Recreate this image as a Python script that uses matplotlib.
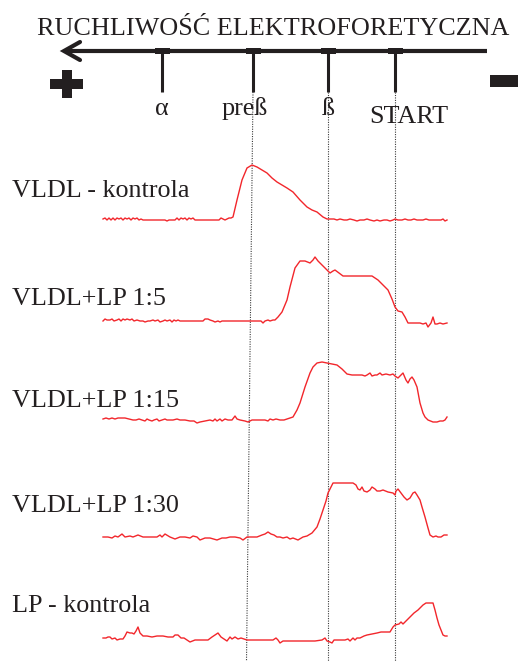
import numpy as np
import matplotlib.pyplot as plt
from matplotlib.patches import Rectangle

# densitometry scans: (position along the gel in px, signal height in px)
vldl_kontrola = [
    (103, 1), (105, 2), (107, 0), (109, 2), (111, 0), (113, 2), (115, 0), (117, 2), (119, 1), (121, 2),
    (123, 0), (125, 2), (127, 1), (129, 2), (131, 0), (133, 2), (135, 1), (137, 2), (139, 0), (141, 1),
    (143, 0), (150, 0), (158, 0), (165, 0), (167, -1), (169, 0), (175, 0), (177, 2), (179, 0), (181, 2),
    (183, 1), (185, 2), (187, 0), (189, 2), (191, 1), (193, 2), (195, 0), (205, 0), (215, 0), (219, 0),
    (221, 2), (223, 1), (225, 0), (227, 1), (229, 2), (231, 2), (233, 3), (237, 20), (242, 40), (247, 52),
    (252, 55), (257, 53), (262, 50), (267, 47), (272, 42), (277, 38), (282, 35), (287, 32), (293, 28),
    (300, 20), (307, 13), (312, 10), (317, 8), (323, 3), (327, 1), (331, 1), (334, 1), (337, 0), (340, 1),
    (344, 0), (347, 0), (350, 1), (354, 0), (357, -1), (360, 0), (364, 0), (367, 1), (370, 0), (374, -1),
    (377, 0), (380, -1), (384, 0), (387, 0), (390, -1), (393, 0), (395, 1), (398, 0), (402, 0), (405, 1),
    (408, 0), (411, 0), (414, 1), (417, 0), (420, 0), (423, 0), (426, 1), (429, 0), (432, 0), (435, 0),
    (438, 0), (441, 0), (443, 1), (445, -1), (447, 0)]

vldl_lp_5 = [
    (103, 0), (105, 2), (107, 1), (110, 1), (112, 2), (114, 0), (117, 1), (119, 2), (121, 0), (123, 2),
    (125, 1), (127, 2), (130, 1), (132, 2), (134, 0), (137, 1), (140, 0), (143, 0), (145, -1), (148, 0),
    (150, 0), (153, 1), (155, 0), (158, 1), (160, -1), (163, 0), (165, 1), (167, 0), (170, 1), (172, -1),
    (174, 1), (176, 0), (178, 1), (180, 0), (185, 0), (195, 0), (203, 0), (205, 2), (208, 2), (210, 1),
    (213, 0), (215, -1), (218, 0), (220, -1), (222, 0), (230, 0), (240, 0), (250, 0), (258, 0), (261, 0),
    (263, -2), (265, 0), (268, 1), (270, 0), (273, 1), (275, 1), (278, 4), (282, 9), (287, 21), (290, 34),
    (295, 53), (300, 60), (305, 60), (310, 58), (313, 61), (315, 64), (318, 60), (320, 58), (324, 54),
    (327, 51), (330, 48), (333, 50), (335, 51), (339, 48), (343, 45), (350, 45), (357, 45), (365, 45),
    (372, 45), (375, 43), (378, 41), (383, 36), (388, 31), (392, 22), (395, 14), (398, 10), (402, 9),
    (405, 4), (408, -2), (412, -2), (416, -2), (420, -2), (423, -3), (426, -2), (428, -6), (431, -2),
    (433, 4), (435, -3), (437, -3), (440, -2), (443, -3), (447, -2)]

vldl_lp_15 = [
    (103, 1), (106, 2), (109, 1), (112, 2), (115, 1), (118, 2), (121, 2), (125, 2), (129, 1), (133, 0),
    (136, 0), (139, 1), (142, 0), (145, -1), (147, 1), (149, 0), (152, -1), (154, 0), (157, 1), (159, -1),
    (162, 0), (165, 1), (167, 0), (170, 0), (173, 0), (177, 1), (180, 0), (185, 0), (190, -1), (194, -1),
    (197, -3), (200, -2), (205, -1), (210, 0), (213, -1), (215, 1), (217, -1), (220, 1), (222, -1),
    (225, 1), (228, 0), (232, 0), (235, 4), (237, 1), (240, 0), (245, -1), (248, -2), (252, 0), (257, 0),
    (262, 0), (265, 0), (268, -1), (270, 1), (273, 0), (276, 1), (280, 0), (284, 0), (287, 1), (290, 2),
    (293, 3), (297, 10), (300, 17), (305, 33), (310, 47), (313, 53), (317, 57), (322, 58), (327, 57),
    (332, 56), (337, 55), (342, 51), (347, 46), (352, 45), (357, 45), (362, 45), (365, 44), (367, 45),
    (370, 47), (372, 44), (375, 45), (377, 45), (380, 47), (382, 45), (386, 46), (390, 45), (393, 46),
    (395, 44), (398, 42), (401, 45), (403, 47), (406, 40), (408, 37), (410, 41), (412, 43), (414, 40),
    (417, 33), (420, 17), (423, 7), (425, 3), (428, 0), (433, -2), (437, -2), (440, -1), (443, -1),
    (445, 0), (447, 3)]

vldl_lp_30 = [
    (103, 0), (108, 0), (112, -1), (115, 1), (118, 0), (122, 3), (125, 0), (130, 1), (133, 0), (138, 2),
    (143, 0), (150, 0), (157, 0), (160, 2), (162, 0), (165, 3), (170, 0), (175, -2), (180, 0), (185, 0),
    (190, -1), (193, 1), (197, 0), (200, -3), (205, -1), (210, -1), (217, -3), (222, -1), (226, -1),
    (230, 0), (235, 0), (240, -1), (243, -3), (247, 0), (252, 0), (257, 0), (262, 2), (265, 3), (268, 5),
    (271, 3), (274, 2), (277, 0), (280, 0), (283, -1), (287, 0), (290, -2), (293, -1), (298, -3), (303, 0),
    (307, 1), (312, 4), (317, 10), (320, 18), (323, 27), (326, 36), (328, 44), (331, 50), (333, 54),
    (340, 54), (347, 54), (353, 54), (356, 52), (358, 48), (360, 47), (362, 50), (364, 46), (367, 45),
    (370, 47), (372, 50), (375, 48), (377, 46), (380, 46), (383, 47), (388, 45), (393, 44), (395, 42),
    (396, 46), (398, 48), (401, 44), (404, 40), (407, 37), (410, 39), (413, 44), (415, 45), (417, 42),
    (420, 37), (422, 30), (425, 20), (428, 9), (430, 2), (433, 0), (436, 1), (438, 0), (441, 0), (444, 2),
    (447, 2)]

lp_kontrola = [
    (103, 2), (106, 2), (108, 3), (110, 3), (112, 1), (115, 2), (117, 0), (120, 1), (123, 1), (125, 4),
    (127, 8), (130, 7), (132, 7), (134, 6), (136, 9), (138, 13), (140, 7), (143, 4), (147, 4), (152, 3),
    (157, 4), (163, 4), (168, 3), (170, 3), (173, 3), (175, 5), (178, 5), (181, 2), (184, 2), (187, 0),
    (190, -2), (195, 0), (200, 0), (205, 0), (208, 0), (212, 3), (215, 5), (218, 7), (221, 3), (224, 1),
    (227, -1), (230, 3), (232, 1), (235, 3), (238, 1), (241, 2), (244, 1), (247, 0), (255, 0), (262, 0),
    (270, 0), (273, 0), (276, 2), (278, 0), (280, -3), (283, -1), (287, -1), (295, -1), (305, -1),
    (315, -1), (322, 0), (325, 2), (327, -1), (330, -2), (332, -3), (334, 0), (337, 0), (342, 0), (345, 0),
    (348, 1), (350, -1), (353, 2), (355, 0), (357, 2), (360, 2), (364, 4), (367, 5), (372, 6), (377, 7),
    (381, 8), (386, 8), (390, 8), (393, 13), (395, 15), (399, 16), (401, 18), (403, 16), (405, 18),
    (408, 21), (410, 23), (414, 27), (418, 30), (421, 33), (423, 35), (426, 37), (430, 37), (433, 37),
    (435, 30), (437, 22), (439, 15), (441, 10), (443, 5), (445, 4), (447, 4)]

row_labels = ['VLDL - kontrola', 'VLDL+LP 1:5', 'VLDL+LP 1:15', 'VLDL+LP 1:30', 'LP - kontrola']
scans = [vldl_kontrola, vldl_lp_5, vldl_lp_15, vldl_lp_30, lp_kontrola]

band_labels = ['\u03b1', 'pre\u00df', '\u00df', 'START']
band_pos = [162, 253, 328, 395]

# layout in px (y grows downward)
baselines = [220, 321, 420, 537, 640]
label_baselines = [197, 305, 407, 512, 612]
band_label_x = [162, 245, 328, 409]
band_label_y = [115, 115, 115, 123]
guide_bottom = [246.5, 328, 395]

W, H = 518, 661
ink = '#231f20'
red = '#f2262b'
font = 'Liberation Serif'
fs = 18.8

fig = plt.figure(figsize=(W / 100, H / 100), dpi=100)
ax = fig.add_axes([0, 0, 1, 1])
ax.set_xlim(0, W)
ax.set_ylim(H, 0)
ax.axis('off')

ax.text(273, 35, 'RUCHLIWO\u015a\u0106 ELEKTROFORETYCZNA', ha='center', va='baseline',
        family=font, fontsize=fs, color=ink)

# mobility arrow pointing to the anode
ax.plot([66, 487], [51, 51], color=ink, lw=3.0, solid_capstyle='butt')
ax.plot([80, 64, 80], [42, 51, 60], color=ink, lw=3.0,
        solid_capstyle='round', solid_joinstyle='miter')
for x in band_pos:
    ax.plot([x, x], [51, 92], color=ink, lw=2.2, solid_capstyle='butt')
    ax.add_patch(Rectangle((x - 7.5, 48), 15, 6, color=ink, lw=0))

for lab, x, y in zip(band_labels, band_label_x, band_label_y):
    ax.text(x, y, lab, ha='center', va='baseline', family=font, fontsize=fs, color=ink)

# electrode signs
ax.add_patch(Rectangle((50, 79), 33, 10, color=ink, lw=0))
ax.add_patch(Rectangle((62, 70), 10, 28, color=ink, lw=0))
ax.add_patch(Rectangle((490, 75), 30, 12, color=ink, lw=0))

# dotted guides from the band ticks down through all scans
for x0, x1 in zip(band_pos[1:], guide_bottom):
    ax.plot([x0, x1], [92, H], color='#3a3a3a', lw=0.8, linestyle=(0, (1, 1.2)))

for lab, scan, base, ly in zip(row_labels, scans, baselines, label_baselines):
    pts = np.array(scan, dtype=float)
    ax.plot(pts[:, 0], base - pts[:, 1], color=red, lw=1.0)
    ax.text(12, ly, lab, ha='left', va='baseline', family=font, fontsize=fs, color=ink)

fig.savefig('out.png', dpi=100)
